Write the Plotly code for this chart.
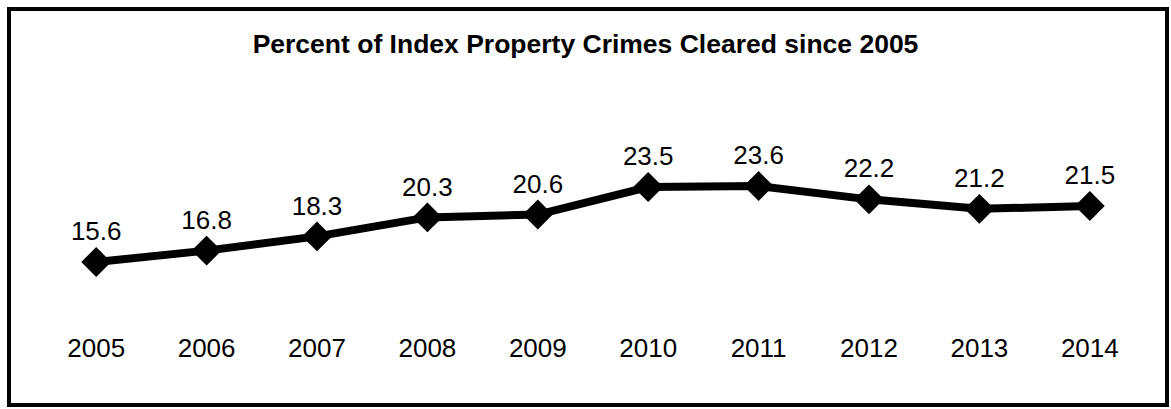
import plotly.graph_objects as go

years = ['2005', '2006', '2007', '2008', '2009', '2010', '2011', '2012', '2013', '2014']
cleared_pct = [15.6, 16.8, 18.3, 20.3, 20.6, 23.5, 23.6, 22.2, 21.2, 21.5]

W, H = 1171, 409
ML, MR, MT, MB = 41, 26, 125, 79
plot_w = W - ML - MR
plot_h = H - MT - MB
FONT = 'Liberation Sans, Arial'


def px_to_paper(x, y):
    # convert page pixels to paper coords of the plot area
    return (x - ML) / plot_w, (H - MB - y) / plot_h


fig = go.Figure(go.Scatter(
    x=years,
    y=cleared_pct,
    mode='lines+markers+text',
    line=dict(color='black', width=8),
    marker=dict(symbol='diamond', size=23, color='black'),
    text=[f"{v:.1f}" for v in cleared_pct],
    textposition='top center',
    textfont=dict(family=FONT, size=26, color='black'),
    cliponaxis=False,
    hoverinfo='x+y',
))

x0, y0 = px_to_paper(9, 405)
x1, y1 = px_to_paper(1167, 9)
fig.add_shape(type='rect', xref='paper', yref='paper',
              x0=x0, y0=y0, x1=x1, y1=y1,
              line=dict(color='black', width=4), layer='above')

fig.update_layout(
    width=W, height=H,
    margin=dict(l=ML, r=MR, t=MT, b=MB),
    paper_bgcolor='white',
    plot_bgcolor='white',
    showlegend=False,
    title=dict(
        text='<b>Percent of Index Property Crimes Cleared since 2005</b>',
        x=0.5, xanchor='center',
        y=1 - 44 / H, yanchor='middle',
        font=dict(family=FONT, size=26.5, color='black'),
    ),
    xaxis=dict(
        type='category',
        range=[-0.5, 9.5],
        showgrid=False, showline=False, zeroline=False,
        ticks='',
        tickfont=dict(family=FONT, size=26, color='black'),
    ),
    yaxis=dict(
        range=[8.44, 30.03],
        visible=False,
    ),
)

# drop the default body margin so the figure fills the window
fig.write_html("out.html", config={'displayModeBar': False},
               post_script="document.body.style.margin='0';")
